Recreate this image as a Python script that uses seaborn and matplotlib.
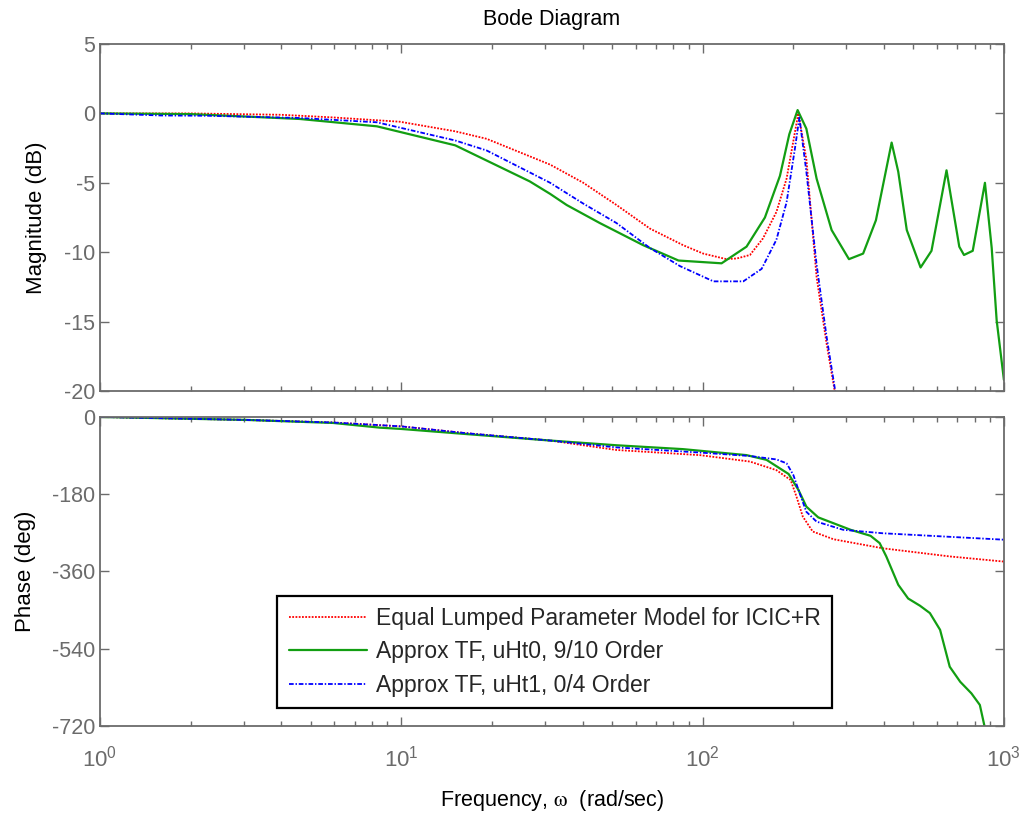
import numpy as np
import pandas as pd
import matplotlib
matplotlib.use("Agg")
import matplotlib.pyplot as plt
import seaborn as sns
from matplotlib.ticker import LogLocator, NullFormatter, FixedLocator

# ---------------- data ----------------
labels = ["Equal Lumped Parameter Model for ICIC+R",
          "Approx TF, uHt0, 9/10 Order",
          "Approx TF, uHt1, 0/4 Order"]

# Magnitude (dB)
mag_red_w = [1, 2, 4, 5.94, 9.9, 15.1, 19.2, 31.2, 40.2, 51.8, 66.9, 86.3, 100.5, 120, 130,
             143.6, 158.7, 175.8, 190, 207.8, 221, 239, 258, 275, 290]
mag_red_db = [0, 0, -0.1, -0.29, -0.6, -1.29, -1.83, -3.69, -5.0, -6.6, -8.3, -9.5, -10.1, -10.5, -10.45,
              -10.2, -9.0, -7.1, -4.7, 0.0, -3.3, -11.8, -16.6, -20.1, -22.5]

mag_grn_w = [1, 2, 4.6, 8.3, 15.1, 26.7, 31.2, 35.4, 45.6, 63.6, 83.2, 115.6, 139.9, 161, 180.6,
             194, 206.7, 221, 239, 268, 306, 341, 376, 424, 446, 476, 529, 575, 645, 711, 737,
             788, 865, 911, 946, 1000]
mag_grn_db = [0, -0.05, -0.4, -0.93, -2.3, -4.9, -5.8, -6.6, -7.9, -9.5, -10.6, -10.8, -9.6, -7.5, -4.5,
              -1.5, 0.24, -1.1, -4.7, -8.4, -10.5, -10.1, -7.7, -2.1, -4.2, -8.4, -11.1, -9.9, -4.1, -9.6, -10.2,
              -9.9, -5.0, -9.7, -14.9, -19.2]

mag_blu_w = [1, 1.6, 2.3, 4.6, 8.3, 15.1, 19.2, 31.2, 40.2, 51.8, 66.9, 84.1, 108.6, 136.5, 157,
             175.8, 190, 202.6, 209.5, 221, 239, 258, 276, 290]
mag_blu_db = [0, -0.15, -0.17, -0.33, -0.64, -1.95, -2.67, -5.0, -6.5, -7.9, -9.7, -11.0, -12.1, -12.1, -11.2,
              -9.1, -6.4, -2.5, -0.3, -4.2, -10.9, -16.1, -20.1, -22.5]

# Phase (deg)
ph_red_w = [1, 3.07, 5.94, 10, 16.5, 31.2, 51.8, 98, 143.6, 175.8, 196, 205, 215, 232, 272, 396, 661, 1000]
ph_red_deg = [0, -7, -13, -22, -38, -55, -77, -89, -104, -124, -147, -186, -232, -267, -285, -306, -325, -337]

ph_grn_w = [1, 3.07, 5.94, 8.5, 10, 16.5, 31.2, 51.8, 86, 140, 163, 193, 208, 221, 242, 310, 361, 387,
            407, 446, 481, 527, 568, 614, 661, 716, 780, 832, 865]
ph_grn_deg = [0, -7, -14, -25, -28, -40, -55, -66, -75, -89, -100, -133, -170, -209, -234, -263, -277, -294,
              -325, -391, -423, -440, -457, -496, -582, -617, -644, -671, -725]

ph_blu_w = [1, 3.07, 5.94, 10, 16.5, 31.2, 51.8, 98, 143.6, 175.8, 190, 200, 210, 221, 239, 293, 396, 1000]
ph_blu_deg = [0, -7, -13, -22, -38, -55, -71, -83, -91, -99, -108, -135, -178, -221, -244, -263, -271, -286]

mag_yticks = [5, 0, -5, -10, -15, -20]
ph_yticks = [0, -180, -360, -540, -720]

# ---------------- styling ----------------
sns.set_theme(style="ticks")
plt.rcParams['font.family'] = ['Liberation Sans', 'DejaVu Sans']
plt.rcParams['mathtext.fontset'] = 'stix'
plt.rcParams['axes.unicode_minus'] = False

GREY = '#6b6b6b'
colors = ['#ff0000', '#129e12', '#0000ff']
styles = [(0, (1, 0.8)), '-', (0, (2.6, 1.0, 0.8, 1.0))]
widths = [1.3, 1.6, 1.3]

fig = plt.figure(figsize=(10.22, 8.18), dpi=100)
fig.patch.set_facecolor('white')
ax1 = fig.add_axes([0.0978, 0.522, 0.8845, 0.4242])
ax2 = fig.add_axes([0.0978, 0.1125, 0.8845, 0.3778])

mag_sets = [(mag_red_w, mag_red_db), (mag_grn_w, mag_grn_db), (mag_blu_w, mag_blu_db)]
ph_sets = [(ph_red_w, ph_red_deg), (ph_grn_w, ph_grn_deg), (ph_blu_w, ph_blu_deg)]

for i, (w, m) in enumerate(mag_sets):
    df = pd.DataFrame({"w": w, "v": m})
    sns.lineplot(data=df, x="w", y="v", ax=ax1, color=colors[i], linestyle=styles[i],
                 linewidth=widths[i], sort=True, estimator=None)
for i, (w, p) in enumerate(ph_sets):
    df = pd.DataFrame({"w": w, "v": p})
    sns.lineplot(data=df, x="w", y="v", ax=ax2, color=colors[i], linestyle=styles[i],
                 linewidth=widths[i], sort=True, estimator=None, label=labels[i])

for ax in (ax1, ax2):
    ax.set_xscale('log')
    ax.set_xlim(1, 1000)
    ax.xaxis.set_major_locator(LogLocator(base=10, numticks=10))
    ax.xaxis.set_minor_locator(LogLocator(base=10, subs=np.arange(2, 10), numticks=10))
    ax.xaxis.set_minor_formatter(NullFormatter())
    for s in ax.spines.values():
        s.set_visible(True)
        s.set_color(GREY)
        s.set_linewidth(1.3)
    ax.tick_params(which='both', direction='in', top=True, right=True, color=GREY,
                   labelcolor=GREY, labelsize=15.5, width=1.0)
    ax.tick_params(which='major', length=6.5)
    ax.tick_params(which='minor', length=3.5)
    ax.set_xlabel('')
    ax.set_facecolor('white')

ax1.set_ylim(-20, 5)
ax1.yaxis.set_major_locator(FixedLocator(mag_yticks))
ax1.tick_params(axis='x', labelbottom=False)
ax1.set_ylabel('Magnitude (dB)', fontsize=16, color='black', labelpad=12)
ax1.set_title('Bode Diagram', fontsize=15.5, color='black', pad=14)

ax2.set_ylim(-720, 0)
ax2.yaxis.set_major_locator(FixedLocator(ph_yticks))
ax2.set_ylabel('Phase (deg)', fontsize=16, color='black', labelpad=11)
ax2.tick_params(axis='x', which='major', labelsize=16, pad=14)
ax2.set_xlabel(r'Frequency, $\mathrm{\omega}$  (rad/sec)', fontsize=15.5, color='black', labelpad=12)

leg = ax2.legend(loc='lower left', bbox_to_anchor=(0.196, 0.058), fontsize=16.5,
                 frameon=True, fancybox=False, shadow=False, handlelength=3.4,
                 handletextpad=0.4, borderpad=0.5, labelspacing=0.45, borderaxespad=0)
leg.get_frame().set_edgecolor('black')
leg.get_frame().set_linewidth(1.6)
leg.get_frame().set_facecolor('white')
leg.get_frame().set_alpha(1)

fig.savefig('out.png', dpi=100, facecolor='white')
